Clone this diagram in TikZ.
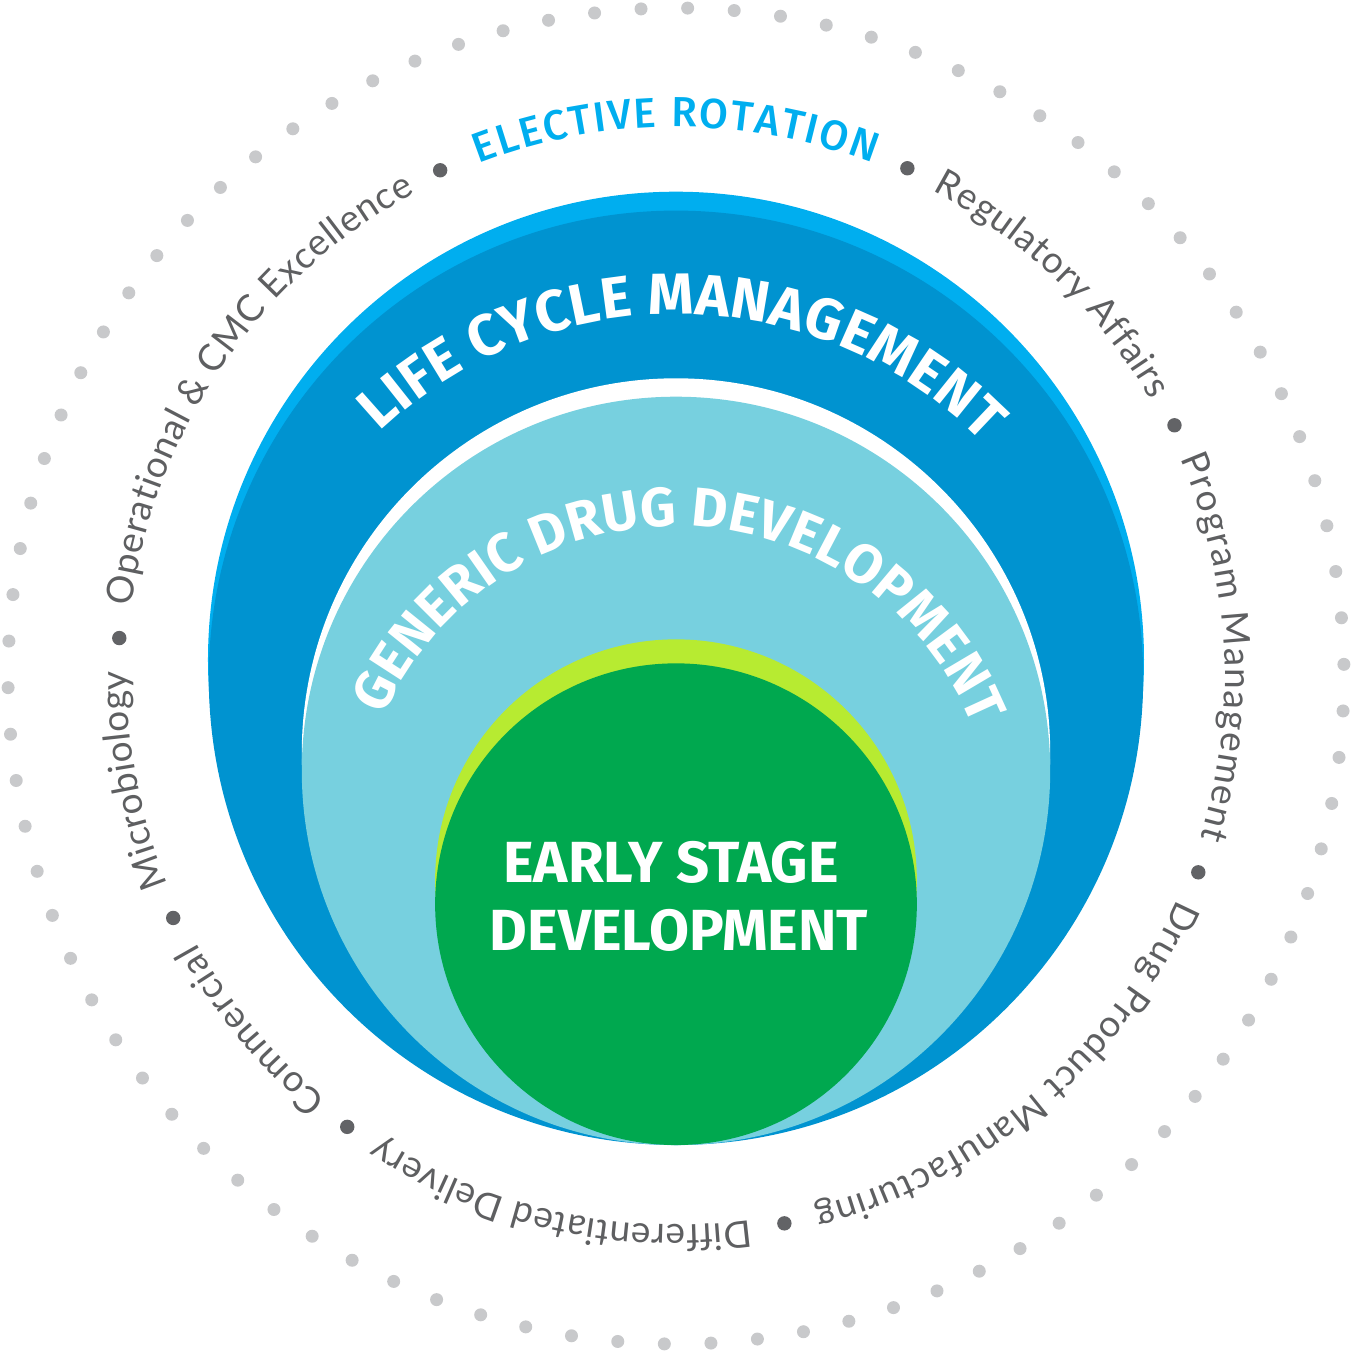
\documentclass[tikz,border=0pt]{standalone}
\usepackage{fontspec}
\usetikzlibrary{decorations.text,calc}
\setmainfont{Lato}
\newfontfamily\tfont{Fira Sans}
\newfontfamily\lfont{Lato}
\IfFontExistsTF{Fira Sans Medium}{\newfontfamily\mfont{Fira Sans Medium}}{\newfontfamily\mfont{Fira Sans}}
\definecolor{brightblue}{HTML}{00AEEF}
\definecolor{darkblue}{HTML}{0093D0}
\definecolor{lightblue}{HTML}{77D0DF}
\definecolor{limegreentwo}{HTML}{B7EB31}
\definecolor{deepgreen}{HTML}{00A84F}
\definecolor{dotgray}{HTML}{C8C9CB}
\definecolor{bulletgray}{HTML}{626366}
\definecolor{textgray}{HTML}{5E5F61}
\tikzset{
  titletxt/.style={font=\tfont\bfseries\fontsize{58}{58}\selectfont, text=white, inner sep=0pt},
}
\newcommand\graylabel[3]{%
  \path[decorate,decoration={text along path,text align=fit to path,text color=textgray,
    text={|\lfont\fontsize{37}{37}\selectfont|#3}}]
    (#1:549) arc[start angle=#1,end angle=#2,radius=549];}
\begin{document}
\begin{tikzpicture}[x=1pt,y=1pt]
\useasboundingbox (-676,-677) rectangle (677,676);
% outer dotted ring
\foreach \a in {1,5,...,357} \fill[dotgray] (\a:668) circle (6.5);
% bullets
\foreach \a in {115,65.5,26.7,-20.6,-78.8,-126.1,-154.3,176.1} \fill[bulletgray] (\a:558) circle (7.2);
% nested circles
\fill[brightblue] (0,16.3) circle (468);
\fill[darkblue] (0,-1.8) circle (467.2);
\fill[white] (0,-76.5) circle (374.2);
\fill[lightblue] (0,-94.9) circle (374.2);
\fill[limegreentwo] (0,-204.2) circle (240.85);
\fill[deepgreen] (0,-228.2) circle (240.85);
% elective rotation
\path[decorate,decoration={text along path,text align=fit to path,text color=brightblue,
  text={|\mfont\fontsize{42}{42}\selectfont|ELECTIVE ROTATION}}]
  (111.1:549) arc[start angle=111.1,end angle=69,radius=549];
% gray labels
\graylabel{62.1}{30.1}{Regulatory Affairs}
\graylabel{23.3}{-17.2}{Program Management}
\graylabel{-24}{-75.4}{Drug Product Manufacturing}
\graylabel{-82.2}{-122.7}{Differentiated Delivery}
\graylabel{-129.5}{-150.9}{Commercial}
\graylabel{-157.7}{-180.5}{Microbiology}
\graylabel{172.7}{118.4}{Operational {\&} CMC Excellence}
% arc titles
\path[decorate,decoration={text along path,text align=fit to path,text color=white,
  text={|\tfont\bfseries\fontsize{58}{58}\selectfont|LIFE CYCLE MANAGEMENT}}]
  ($(0,-68)+(133.5:430)$) arc[start angle=133.5,end angle=44.5,radius=430];
\path[decorate,decoration={text along path,text align=fit to path,text color=white,
  text={|\tfont\bfseries\fontsize{55}{55}\selectfont|GENERIC DRUG DEVELOPMENT}}]
  ($(0,-170)+(156:320)$) arc[start angle=156,end angle=22,radius=320];
% centre text
\node[titletxt, anchor=base] (early1) at (-5,-206.7) {EARLY STAGE};
\node[titletxt, anchor=base] (early2) at (3,-274) {DEVELOPMENT};
\end{tikzpicture}
\end{document}
